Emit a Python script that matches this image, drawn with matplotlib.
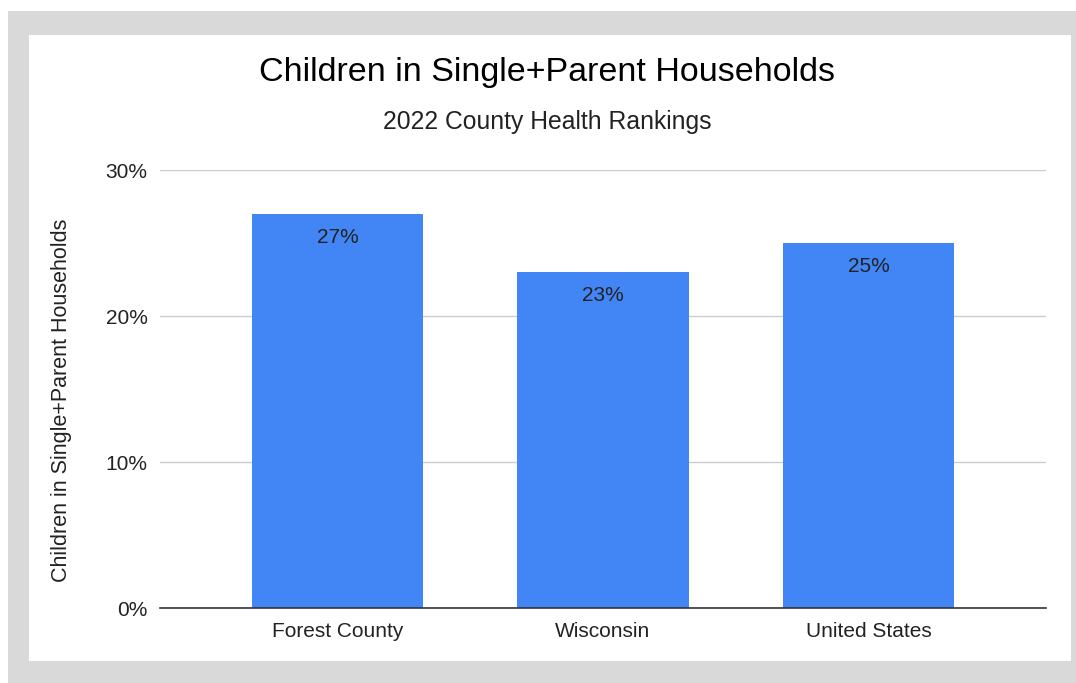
import matplotlib.pyplot as plt
from matplotlib.patches import Rectangle
from matplotlib.ticker import FuncFormatter

plt.rcParams['font.family'] = ['Liberation Sans', 'DejaVu Sans']

places = ["Forest County", "Wisconsin", "United States"]
pct = [27, 23, 25]
y_ticks = [0, 10, 20, 30]

fig = plt.figure(figsize=(10.76, 6.83), dpi=100)
W, H = 1076, 683

# grey frame with white card inside
fig.patches.append(Rectangle((8 / W, 0), 1 - 8 / W, 1 - 11 / H, transform=fig.transFigure,
                             facecolor="#d9d9d9", edgecolor="none", zorder=0))
fig.patches.append(Rectangle((29 / W, 22 / H), 1042 / W, 626 / H, transform=fig.transFigure,
                             facecolor="white", edgecolor="none", zorder=1))

ax = fig.add_axes([160 / W, (H - 608) / H, 886 / W, 438 / H])
ax.set_zorder(2)
ax.patch.set_alpha(0)

x = list(range(len(places)))
bars = ax.bar(x, pct, width=0.645, color="#4285f4", zorder=3)
for b, v in zip(bars, pct):
    ax.text(b.get_x() + b.get_width() / 2, v - 0.95, f"{v}%", ha="center", va="top",
            fontsize=15, color="#222222", zorder=4)

ax.set_xlim(-0.668, 2.668)
ax.set_ylim(0, 30)
ax.set_yticks(y_ticks)
ax.yaxis.set_major_formatter(FuncFormatter(lambda v, p: f"{v:.0f}%"))
ax.set_xticks(x)
ax.set_xticklabels(places)
ax.grid(axis="y", color="#cccccc", linewidth=1, zorder=0)
for s in ["top", "right", "left"]:
    ax.spines[s].set_visible(False)
ax.spines["bottom"].set_color("#333333")
ax.spines["bottom"].set_linewidth(1.2)
ax.spines["bottom"].set_zorder(5)
ax.tick_params(axis="both", length=0, labelsize=15, labelcolor="#222222")
ax.tick_params(axis="y", pad=9)
ax.tick_params(axis="x", pad=10)

fig.text(62 / W, 1 - 400 / H, "Children in Single+Parent Households", rotation=90,
         ha="center", va="center", fontsize=15.5, color="#222222")
fig.text(547 / W, 1 - 72 / H, "Children in Single+Parent Households", ha="center", va="center",
         fontsize=24.5, color="black")
fig.text(547 / W, 1 - 122 / H, "2022 County Health Rankings", ha="center", va="center",
         fontsize=17.8, color="#222222")

fig.savefig("out.png", dpi=100)
